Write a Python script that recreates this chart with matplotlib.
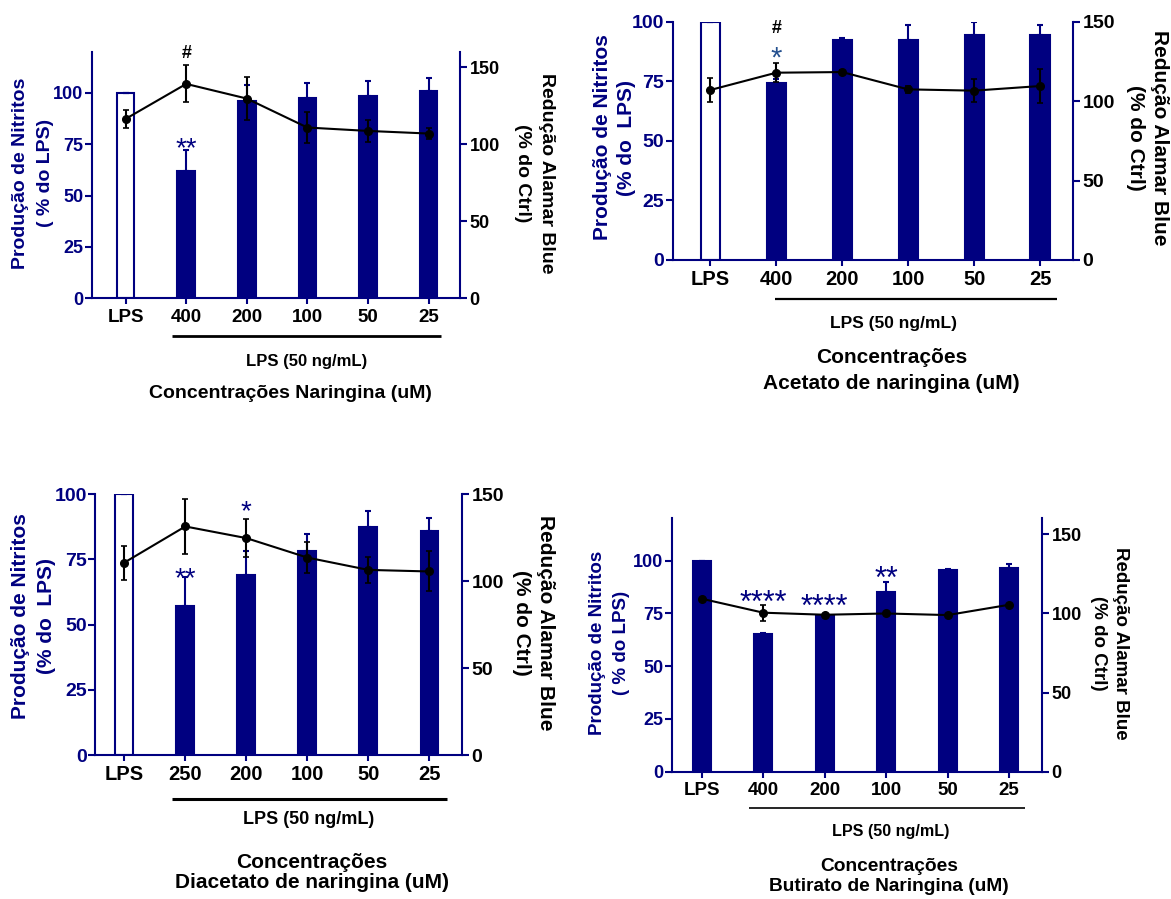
import numpy as np
import matplotlib
matplotlib.use("Agg")
import matplotlib.pyplot as plt

plt.rcParams['font.family'] = ['Liberation Sans', 'DejaVu Sans']
plt.rcParams['font.weight'] = 'bold'

NAVY = '#000080'
W, H = 1171, 899

# ---- dados ----
labels_nar = ["LPS", "400", "200", "100", "50", "25"]
nitrito_nar = [100, 62, 96, 97.7, 98.2, 100.7]
nitrito_nar_err = [0, 10, 8, 7.3, 7.7, 6.6]
alamar_nar = [116.4, 139.1, 129.6, 110.8, 108.6, 106.9]
alamar_nar_err = [5.6, 12, 14, 10, 7, 3.5]

labels_ace = ["LPS", "400", "200", "100", "50", "25"]
nitrito_ace = [100, 74.1, 92.4, 92.2, 94.5, 94.5]
nitrito_ace_err = [0, 2, 0.8, 6.3, 5.2, 4]
alamar_ace = [107, 117.9, 118.3, 107.4, 106.6, 109.5]
alamar_ace_err = [7.5, 6, 1, 2, 7.4, 10.5]

labels_diace = ["LPS", "250", "200", "100", "50", "25"]
nitrito_diace = [100, 57.2, 68.9, 78.4, 87.3, 85.8]
nitrito_diace_err = [0, 10.9, 9.5, 6.3, 6.3, 5.2]
alamar_diace = [110.7, 131.5, 124.8, 113.6, 106.5, 105.6]
alamar_diace_err = [9.8, 16, 11, 9, 7.5, 11.5]

labels_but = ["LPS", "400", "200", "100", "50", "25"]
nitrito_but = [100, 65.3, 73.9, 85.1, 95.6, 96.4]
nitrito_but_err = [0, 0.6, 0.5, 4.7, 0.5, 2]
alamar_but = [109.2, 100.4, 99.1, 99.9, 98.9, 105.4]
alamar_but_err = [0.5, 5, 0.5, 0.5, 0.5, 0.5]

# anotacoes: (indice, texto, valor no eixo esquerdo, cor)
annot_nar = [(1, "#", 120.3, "black"), (1, "**", 77.2, NAVY)]
annot_ace = [(1, "#", 98, "black"), (1, "*", 88.1, "#24508f")]
annot_diace = [(1, "**", 71, NAVY), (2, "*", 96.5, NAVY)]
annot_but = [(1, "****", 84.3, NAVY), (2, "****", 82.3, NAVY), (3, "**", 95.4, NAVY)]

fig = plt.figure(figsize=(W / 100, H / 100), dpi=100)


def rect(l, r, t, b):
    return [l / W, 1 - b / H, (r - l) / W, (b - t) / H]


def ftext(x, y, s, **kw):
    fig.text(x / W, 1 - y / H, s, ha='center', va='center', fontweight='bold', **kw)


def painel(r, xlim, labels, nit, nit_err, ala, ala_err, lmax, rmax, rticks,
           open_lps, annots, tick_fs, xtick_fs, bracket, star_fs=20):
    ax = fig.add_axes(r)
    x = np.arange(len(labels))
    face = [NAVY] * len(labels)
    if open_lps:
        face[0] = 'white'
    ax.bar(x, nit, width=0.29, color=face, edgecolor=NAVY, linewidth=1.5, zorder=2)
    ax.errorbar(x, nit, yerr=[np.zeros(len(x)), nit_err], fmt='none', ecolor=NAVY,
                elinewidth=1.5, capsize=2, capthick=1.5, zorder=2)
    ax.set_xlim(*xlim)
    ax.set_ylim(0, lmax)
    ax.set_yticks([0, 25, 50, 75, 100])
    ax.set_xticks(x)
    ax.set_xticklabels(labels)
    for s in ['top', 'right']:
        ax.spines[s].set_visible(False)
    for s in ['left', 'bottom']:
        ax.spines[s].set_color(NAVY)
        ax.spines[s].set_linewidth(1.5)
    ax.tick_params(axis='y', colors=NAVY, labelcolor=NAVY, length=5, width=1.5,
                   pad=1, labelsize=tick_fs)
    ax.tick_params(axis='x', colors=NAVY, labelcolor='black', length=4, width=1.5,
                   pad=3.5, labelsize=xtick_fs)
    for lab in ax.get_xticklabels() + ax.get_yticklabels():
        lab.set_fontweight('bold')

    ax2 = ax.twinx()
    ax2.errorbar(x, ala, yerr=ala_err, fmt='o-', color='black', ms=5.5, lw=1.5,
                 elinewidth=1.5, capsize=2, capthick=1.2, zorder=3)
    ax2.set_ylim(0, rmax)
    ax2.set_yticks(rticks)
    for s in ['top', 'left', 'bottom']:
        ax2.spines[s].set_visible(False)
    ax2.spines['right'].set_color(NAVY)
    ax2.spines['right'].set_linewidth(1.5)
    ax2.tick_params(axis='y', colors=NAVY, labelcolor='black', length=5, width=1.5,
                    pad=2, labelsize=tick_fs)
    for lab in ax2.get_yticklabels():
        lab.set_fontweight('bold')

    for i, txt, yv, c in annots:
        fs = star_fs if '*' in txt else 13
        off = -0.58 * fs if '*' in txt else -0.36 * fs
        ax.annotate(txt, (x[i], yv), xytext=(0, off), textcoords='offset points',
                    ha='center', va='baseline', color=c, fontsize=fs,
                    fontweight='bold' if '#' in txt else 'normal', annotation_clip=False)

    x0, x1, yb, lw = bracket
    ax.plot([x0, x1], [yb, yb], color='black', lw=lw, transform=ax.get_xaxis_transform(),
            clip_on=False, solid_capstyle='butt')
    return ax


# ---- painel 1: Naringina ----
painel(rect(91.7, 460, 51.7, 298.3), (-0.56, 5.52), labels_nar, nitrito_nar, nitrito_nar_err,
       alamar_nar, alamar_nar_err, 120, 160, [0, 50, 100, 150], True, annot_nar, 13, 13.5,
       (0.77, 5.21, -0.152, 2.0), star_fs=20)
ftext(20.6, 173, "Produção de Nitritos", rotation=90, color=NAVY, fontsize=14)
ftext(45, 173, "( % do LPS)", rotation=90, color=NAVY, fontsize=14)
ftext(547, 173, "Redução Alamar Blue", rotation=-90, color='black', fontsize=14)
ftext(522.5, 173, "(% do Ctrl)", rotation=-90, color='black', fontsize=14)
ftext(306.7, 361.7, "LPS (50 ng/mL)", fontsize=12)
ftext(290, 393.3, "Concentrações Naringina (uM)", fontsize=14)

# ---- painel 2: Acetato de naringina ----
painel(rect(672.7, 1073, 21.7, 260), (-0.57, 5.5), labels_ace, nitrito_ace, nitrito_ace_err,
       alamar_ace, alamar_ace_err, 100, 150, [0, 50, 100, 150], True, annot_ace, 14, 14.5,
       (0.98, 5.25, -0.165, 1.6), star_fs=21)
ftext(602, 137.5, "Produção de Nitritos", rotation=90, color=NAVY, fontsize=15)
ftext(627, 137.5, "(% do  LPS)", rotation=90, color=NAVY, fontsize=15)
ftext(1159, 137.5, "Redução Alamar Blue", rotation=-90, color='black', fontsize=15)
ftext(1135, 137.5, "(% do Ctrl)", rotation=-90, color='black', fontsize=15)
ftext(894, 323.3, "LPS (50 ng/mL)", fontsize=12.5)
ftext(891.7, 357.7, "Concentrações", fontsize=15)
ftext(891.7, 383.3, "Acetato de naringina (uM)", fontsize=15)

# ---- painel 3: Diacetato de naringina ----
painel(rect(95, 461.7, 494.3, 755), (-0.48, 5.53), labels_diace, nitrito_diace, nitrito_diace_err,
       alamar_diace, alamar_diace_err, 100, 150, [0, 50, 100, 150], True, annot_diace, 14, 14.5,
       (0.79, 5.29, -0.170, 2.2), star_fs=20)
ftext(20.6, 616.5, "Produção de Nitritos", rotation=90, color=NAVY, fontsize=15)
ftext(46, 616.5, "(% do  LPS)", rotation=90, color=NAVY, fontsize=15)
ftext(545, 622.5, "Redução Alamar Blue", rotation=-90, color='black', fontsize=15)
ftext(521, 622.5, "(% do Ctrl)", rotation=-90, color='black', fontsize=15)
ftext(308.7, 819.3, "LPS (50 ng/mL)", fontsize=13)
ftext(311.7, 862.7, "Concentrações", fontsize=15)
ftext(311.7, 882.7, "Diacetato de naringina (uM)", fontsize=15)

# ---- painel 4: Butirato de Naringina ----
painel(rect(671.7, 1041.7, 518.3, 771.7), (-0.49, 5.53), labels_but, nitrito_but, nitrito_but_err,
       alamar_but, alamar_but_err, 120, 160, [0, 50, 100, 150], False, annot_but, 13, 13.5,
       (0.76, 5.26, -0.144, 1.2), star_fs=22)
ftext(598, 642.5, "Produção de Nitritos", rotation=90, color=NAVY, fontsize=13.5)
ftext(621, 642.5, "( % do LPS)", rotation=90, color=NAVY, fontsize=13.5)
ftext(1121, 643.5, "Redução Alamar Blue", rotation=-90, color='black', fontsize=13.5)
ftext(1098, 643.5, "(% do Ctrl)", rotation=-90, color='black', fontsize=13.5)
ftext(890.3, 831.7, "LPS (50 ng/mL)", fontsize=11.6)
ftext(889.3, 866.7, "Concentrações", fontsize=13.8)
ftext(889.3, 886.7, "Butirato de Naringina (uM)", fontsize=13.8)

fig.savefig("out.png", dpi=100)
